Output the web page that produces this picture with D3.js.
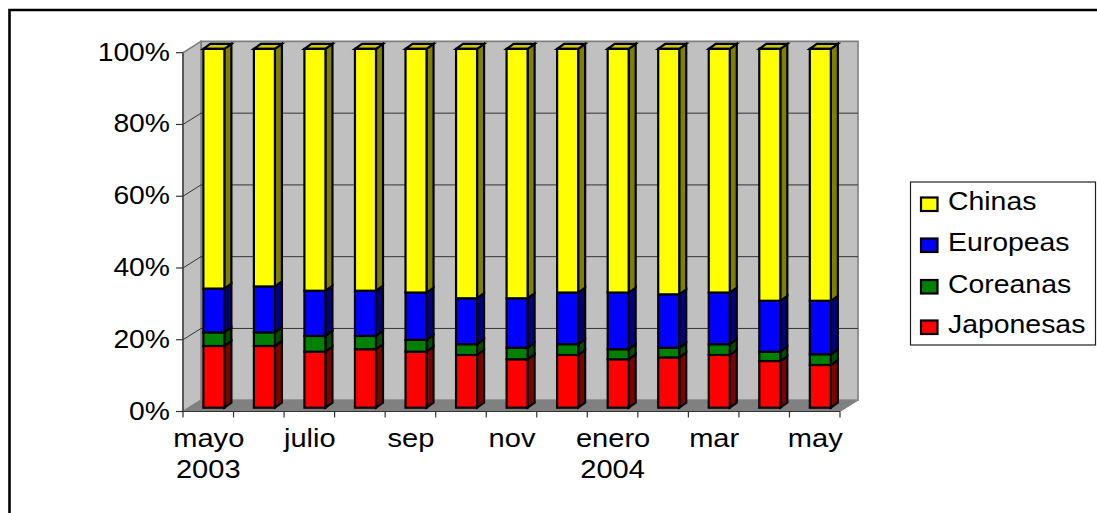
<!DOCTYPE html>
<html lang="es">
<head>
<meta charset="utf-8">
<title>Cuota de mercado</title>
<script src="https://d3js.org/d3.v7.min.js"></script>
<style>
html,body{margin:0;padding:0;background:#fff;}
svg{display:block;}
text{font-family:"Liberation Sans",Arial,sans-serif;fill:#000;}
</style>
</head>
<body>
<svg id="chart" width="1097" height="513"></svg>
<script>
// Monthly share by origin, May 2003 to May 2004 (percent, stacked bottom to top)
const months = ["mayo","jun","julio","ago","sep","oct","nov","dic","enero","feb","mar","abr","may"];
const shownMonths = ["mayo","julio","sep","nov","enero","mar","may"];
const yearLabels = [["mayo","2003"],["enero","2004"]];
const japonesas = [17.2,17.2,15.6,16.3,15.6,14.7,13.5,14.7,13.5,14.0,14.7,13.0,11.9];
const coreanas  = [3.8,3.8,4.4,3.7,3.3,3.0,3.2,3.0,2.8,2.7,3.0,2.6,3.0];
const europeas  = [12.2,12.8,12.6,12.6,13.2,12.8,13.8,14.4,15.8,14.9,14.4,14.2,14.9];
const chinas    = [66.8,66.2,67.4,67.4,67.9,69.5,69.5,67.9,67.9,68.4,67.9,70.2,70.2];
const seriesNames = ["Japonesas","Coreanas","Europeas","Chinas"];
const seriesValues = [japonesas,coreanas,europeas,chinas];
const frontColors = ["#ff0000","#008000","#0000ff","#ffff00"];
const sideColors  = ["#800000","#004d00","#000080","#808000"];
const yTicks = [0,20,40,60,80,100];

const svg = d3.select("#chart");
const labelSize = 25.5;

// Labels are set in a slightly widened face
const addLabel = (parent, px, py, anchor, widen, str) =>
  parent.append("text").attr("transform",`translate(${px},${py}) scale(${widen},1)`)
    .attr("text-anchor",anchor).attr("font-size",labelSize).text(str);

// Front plane of the 3D box, and the shift to its back wall
const plotLeft = 183, plotRight = 840, plotBottom = 411.5, plotTop = 52.7;
const wallDx = 18, wallDy = 11.3;
const x = d3.scaleBand().domain(months).range([plotLeft,plotRight]).paddingInner(0.584).paddingOuter(0.292);
const y = d3.scaleLinear().domain([0,100]).range([plotBottom,plotTop]);
const barDx = 5.6, barDy = 3.8, depthX = 7, depthY = 5;

const poly = pts => pts.map(p => p.join(",")).join(" ");

// Outer frame
svg.append("path").attr("d","M9.5,513V10H1097").attr("fill","none").attr("stroke","#000").attr("stroke-width",2.6);

// Walls and floor
svg.append("polygon").attr("points",poly([[plotLeft+wallDx,plotTop-wallDy],[plotRight+wallDx,plotTop-wallDy],[plotRight+wallDx,plotBottom-wallDy],[plotLeft+wallDx,plotBottom-wallDy]]))
  .attr("fill","#c0c0c0").attr("stroke","#808080").attr("stroke-width",1.6);
svg.append("polygon").attr("points",poly([[plotLeft,plotTop],[plotLeft+wallDx,plotTop-wallDy],[plotLeft+wallDx,plotBottom-wallDy],[plotLeft,plotBottom]]))
  .attr("fill","#c0c0c0").attr("stroke","#808080").attr("stroke-width",1.6);
svg.append("polygon").attr("points",poly([[plotLeft,plotBottom],[plotLeft+wallDx,plotBottom-wallDy],[plotRight+wallDx,plotBottom-wallDy],[plotRight,plotBottom]]))
  .attr("fill","#808080").attr("stroke","#808080").attr("stroke-width",1);

// Gridlines run along the side wall and the back wall
yTicks.filter(t => t > 0 && t < 100).forEach(t => {
  svg.append("polyline").attr("fill","none").attr("stroke","#333").attr("stroke-width",1)
    .attr("points",poly([[plotLeft,y(t)],[plotLeft+wallDx,y(t)-wallDy],[plotRight+wallDx,y(t)-wallDy]]));
});

// Stacked columns: side faces, top cap, then front faces
const rows = months.map((m,i) => {
  const row = {month:m};
  seriesNames.forEach((s,k) => row[s] = seriesValues[k][i]);
  return row;
});
const stacked = d3.stack().keys(seriesNames)(rows);
const bw = x.bandwidth();
const bars = svg.append("g").attr("stroke","#000").attr("stroke-width",2.2).attr("stroke-linejoin","miter");
stacked.forEach((layer,k) => {
  layer.forEach(d => {
    const x0 = x(d.data.month)+barDx, x1 = x0+bw;
    const yLo = y(d[0])-barDy, yHi = y(d[1])-barDy;
    bars.append("polygon").attr("fill",sideColors[k])
      .attr("points",poly([[x1,yLo],[x1+depthX,yLo-depthY],[x1+depthX,yHi-depthY],[x1,yHi]]));
    if (k === stacked.length-1) {
      bars.append("polygon").attr("fill","#cccc00")
        .attr("points",poly([[x0,yHi],[x0+depthX,yHi-depthY],[x1+depthX,yHi-depthY],[x1,yHi]]));
    }
    bars.append("rect").attr("fill",frontColors[k])
      .attr("x",x0).attr("y",yHi).attr("width",bw).attr("height",yLo-yHi);
  });
});

// Value axis
const yAxis = svg.append("g");
yAxis.append("line").attr("x1",plotLeft).attr("x2",plotLeft).attr("y1",plotTop).attr("y2",plotBottom).attr("stroke","#333").attr("stroke-width",1.2);
yTicks.forEach(t => {
  yAxis.append("line").attr("x1",plotLeft-7).attr("x2",plotLeft).attr("y1",y(t)).attr("y2",y(t)).attr("stroke","#333").attr("stroke-width",1.2);
  addLabel(yAxis,170,y(t)+8,"end",1.11,t+"%");
});

// Category axis: ticks sit between the bands
const xAxis = svg.append("g");
const step = x.step();
xAxis.append("line").attr("x1",plotLeft).attr("x2",plotRight).attr("y1",plotBottom).attr("y2",plotBottom).attr("stroke","#333").attr("stroke-width",1.2);
d3.range(months.length+1).forEach(i => {
  const tx = plotLeft+i*step;
  xAxis.append("line").attr("x1",tx).attr("x2",tx).attr("y1",plotBottom).attr("y2",plotBottom+6).attr("stroke","#333").attr("stroke-width",1.2);
});
shownMonths.forEach(m => {
  addLabel(xAxis,x(m)+bw/2+0.5,447,"middle",1.14,m);
});
yearLabels.forEach(([m,yr]) => {
  addLabel(xAxis,x(m)+bw/2,478,"middle",1.14,yr);
});

// Legend
const legend = svg.append("g");
legend.append("rect").attr("x",910.5).attr("y",182).attr("width",185).attr("height",163).attr("fill","#fff").attr("stroke","#222").attr("stroke-width",1.2);
const legendOrder = [3,2,1,0];
const legendY = [197.5,238.5,280,320.5];
legendOrder.forEach((k,i) => {
  legend.append("rect").attr("x",921).attr("y",legendY[i]).attr("width",16.5).attr("height",13.5)
    .attr("fill",frontColors[k]).attr("stroke","#000").attr("stroke-width",2.2);
  addLabel(legend,948,legendY[i]+12.5,"start",1.114,seriesNames[k]);
});
</script>
</body>
</html>
